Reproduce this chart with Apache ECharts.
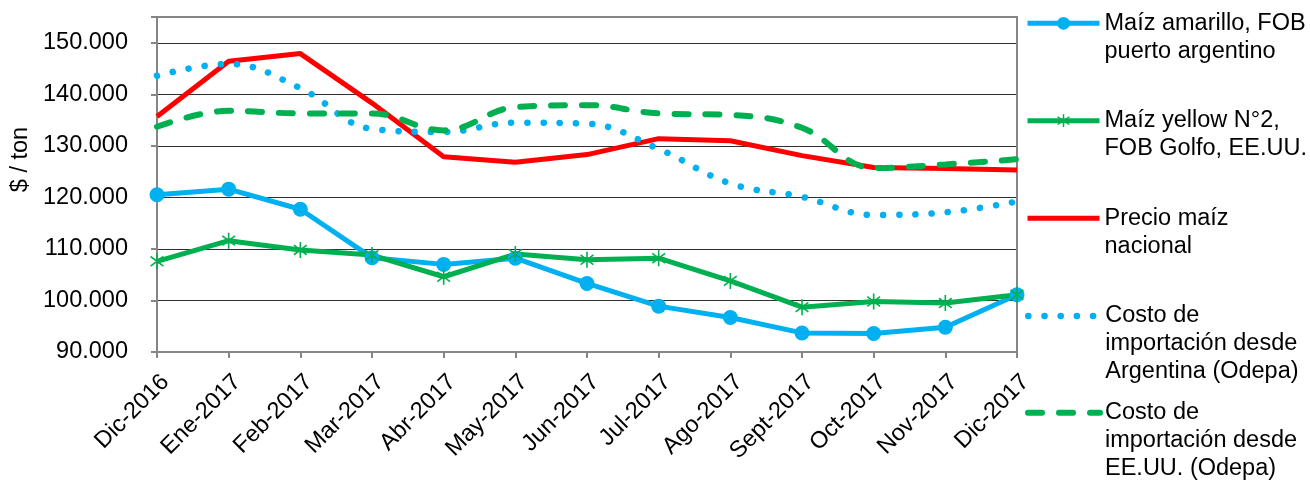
<!DOCTYPE html>
<html>
<head>
<meta charset="utf-8">
<script src="https://cdn.jsdelivr.net/npm/echarts@6/dist/echarts.min.js"></script>
<style>
html, body { margin: 0; padding: 0; background: #fff; }
#chart { width: 1310px; height: 481px; }
</style>
</head>
<body>
<div id="chart"></div>
<script>
// meses del eje x
const meses = ['Dic-2016', 'Ene-2017', 'Feb-2017', 'Mar-2017', 'Abr-2017', 'May-2017', 'Jun-2017',
    'Jul-2017', 'Ago-2017', 'Sept-2017', 'Oct-2017', 'Nov-2017', 'Dic-2017'];

// $ / ton
const maizAmarilloArg = [120500, 121600, 117700, 108300, 107000, 108200, 103300, 98900, 96700, 93700, 93600, 94800, 101100];
const maizYellowEEUU = [107600, 111600, 109800, 108800, 104600, 109000, 107900, 108200, 103800, 98700, 99800, 99500, 101100];
const precioNacional = [135700, 146400, 147900, 138300, 127900, 126800, 128300, 131400, 131000, 128100, 125800, 125600, 125300];
const costoArgentina = [143600, 145900, 141200, 133300, 132700, 134500, 134300, 129400, 122700, 120100, 116600, 117100, 119200];
const costoEEUU = [133700, 136800, 136300, 136300, 133000, 137500, 137900, 136300, 136000, 133500, 125700, 126400, 127400];

const yTicks = { min: 90000, max: 155000, step: 10000 };

const nombres = [
    'Maíz amarillo, FOB\npuerto argentino',
    'Maíz yellow N°2,\nFOB Golfo, EE.UU.',
    'Precio maíz\nnacional',
    'Costo de\nimportación desde\nArgentina (Odepa)',
    'Costo de\nimportación desde\nEE.UU. (Odepa)'
];

const AZUL = '#00B0F0', VERDE = '#00B050', ROJO = '#FF0000';
const FONT = 'Liberation Sans, Arial, sans-serif';
const FS = 23.5;
const LH = 28;

// asterisco (marcador de Excel), brazos algo gruesos
const asterisco = 'path://M9 0L11 0L11 20L9 20Z' +
    'M2.6 3.2L18.6 15.2L17.4 16.8L1.4 4.8Z' +
    'M2.6 16.8L18.6 4.8L17.4 3.2L1.4 15.2Z';

function miles(v) {
    return String(v).replace(/\B(?=(\d{3})+(?!\d))/g, '.');
}

// una leyenda por item; lineas vacias arriba para que el icono quede en la primera linea
const iconY = [23.3, 120.7, 218.3, 316, 412.7];
const conMarcador = [true, true, false, false, false];
const legends = nombres.map(function (n, i) {
    const lineas = n.split('\n').length;
    const h = LH * (2 * lineas - 1);
    return {
        data: [{ name: n, itemStyle: conMarcador[i] ? {} : { opacity: 0 } }],
        orient: 'vertical',
        left: 1025,
        top: iconY[i] - h / 2,
        padding: 0,
        itemWidth: 72,
        itemHeight: 16,
        selectedMode: false,
        lineStyle: { width: 'inherit' },
        formatter: function (name) {
            return '\n'.repeat(lineas - 1) + name;
        },
        textStyle: {
            fontFamily: FONT,
            fontSize: FS,
            color: '#000',
            lineHeight: LH
        }
    };
});

const chart = echarts.init(document.getElementById('chart'));
chart.setOption({
    animation: false,
    backgroundColor: '#fff',
    legend: legends,
    grid: {
        left: 157,
        right: 293,
        top: 17,
        bottom: 129,
        show: true,
        z: 1,
        borderColor: '#868686',
        borderWidth: 2
    },
    xAxis: {
        type: 'category',
        data: meses,
        boundaryGap: false,
        axisLine: { lineStyle: { color: '#868686', width: 2 } },
        axisTick: { length: 6, lineStyle: { color: '#868686', width: 2 } },
        axisLabel: {
            interval: 0,
            rotate: 45,
            margin: 18,
            verticalAlign: 'top',
            fontFamily: FONT,
            fontSize: FS,
            color: '#000'
        }
    },
    yAxis: {
        type: 'value',
        min: yTicks.min,
        max: yTicks.max,
        interval: yTicks.step,
        name: '$ / ton',
        nameLocation: 'middle',
        nameGap: 114,
        nameTextStyle: { fontFamily: FONT, fontSize: FS, color: '#000', padding: [0, 0, 0, 50] },
        axisLine: { show: true, lineStyle: { color: '#868686', width: 2 } },
        axisTick: { show: true, length: 6, lineStyle: { color: '#868686', width: 2 } },
        splitLine: { lineStyle: { color: '#303030', width: 1 } },
        axisLabel: {
            margin: 29,
            fontFamily: FONT,
            fontSize: FS,
            color: '#000',
            formatter: function (v) { return v > 150000 ? '' : miles(v); }
        }
    },
    series: [{
        name: nombres[0],
        type: 'line',
        data: maizAmarilloArg,
        symbol: 'circle',
        symbolSize: 15,
        itemStyle: { color: AZUL },
        lineStyle: { color: AZUL, width: 5 }
    }, {
        name: nombres[1],
        type: 'line',
        data: maizYellowEEUU,
        symbol: asterisco,
        symbolSize: 16,
        symbolKeepAspect: true,
        itemStyle: { color: VERDE },
        lineStyle: { color: VERDE, width: 5 }
    }, {
        name: nombres[2],
        type: 'line',
        data: precioNacional,
        symbol: 'none',
        itemStyle: { color: ROJO },
        lineStyle: { color: ROJO, width: 5 }
    }, {
        name: nombres[3],
        type: 'line',
        data: costoArgentina,
        symbol: 'none',
        smooth: 0.4,
        itemStyle: { color: AZUL },
        lineStyle: { color: AZUL, width: 6.5, type: [0.1, 16.1], cap: 'round' }
    }, {
        name: nombres[4],
        type: 'line',
        data: costoEEUU,
        symbol: 'none',
        smooth: 0.4,
        itemStyle: { color: VERDE },
        lineStyle: { color: VERDE, width: 6, type: [14, 17], cap: 'round' }
    }]
});
</script>
</body>
</html>
